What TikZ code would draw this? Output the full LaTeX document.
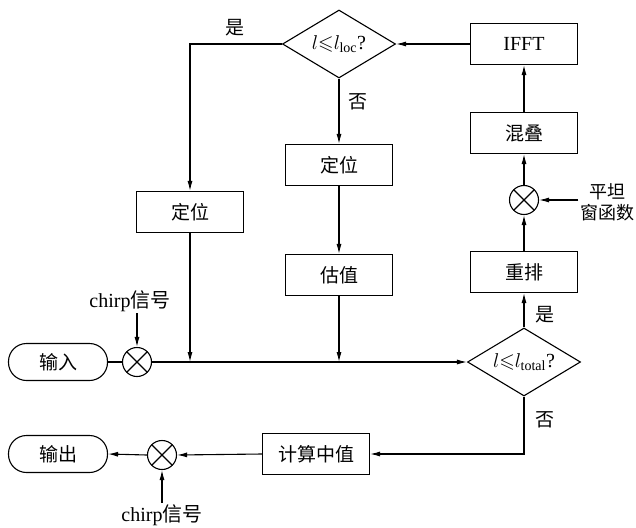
\RequirePackage{fix-cm}
\documentclass[tikz,border=0pt]{standalone}
\usepackage{amssymb}
\usepackage{fontspec}
\setmainfont{Liberation Serif}
\newfontfamily\cjk{Noto Sans CJK SC}
\usetikzlibrary{shapes.geometric,arrows.meta}
\begin{document}
\begin{tikzpicture}[x=1pt,y=-1pt,
  line width=1.1pt,
  font=\fontsize{20}{24}\selectfont,
  box/.style={draw, minimum width=107pt, minimum height=41pt, inner sep=0pt, font=\fontsize{19}{23}\selectfont\cjk},
  term/.style={draw, rounded corners=18pt, minimum width=99pt, minimum height=37pt, inner sep=0pt, font=\fontsize{19}{23}\selectfont\cjk},
  dec/.style={draw, diamond, aspect=1.66, minimum width=113pt, minimum height=68pt, inner sep=0pt},
  mult/.style={draw, circle, minimum size=29pt, inner sep=0pt,
    path picture={\draw (path picture bounding box.north west) -- (path picture bounding box.south east)
                        (path picture bounding box.north east) -- (path picture bounding box.south west);}},
  arr/.style={-{Latex[length=10pt,width=5pt]}},
  lab/.style={inner sep=1pt, font=\fontsize{19}{23}\selectfont\cjk}
]
\useasboundingbox (0,0) rectangle (636,527);

% nodes
\node[dec]  (dloc) at (339,44) {$l{\leqslant}l_{\mathrm{loc}}$?};
\node[box, font=\fontsize{20}{24}\selectfont]  (ifft) at (524,44) {IFFT};
\node[box]  (hd)   at (524,133) {混叠};
\node[mult] (m1)   at (524,200) {};
\node[lab, align=center, font=\fontsize{18}{21}\selectfont\cjk] (win) at (607,202) {平坦\\窗函数};
\node[box]  (cz)   at (524,272) {重排};
\node[dec]  (dtot) at (524,362) {$l{\leqslant}l_{\mathrm{total}}$?};
\node[box]  (calc) at (316,454) {计算中值};
\node[mult] (m3)   at (162,455) {};
\node[term] (out)  at (58,454) {输出};
\node[term] (in)   at (58,362) {输入};
\node[mult] (m2)   at (137,362) {};
\node[box]  (locL) at (190,212) {定位};
\node[box]  (locM) at (339,165) {定位};
\node[box]  (est)  at (339,275) {估值};

\node[inner sep=1pt] (chirpA) at (130,301) {chirp{\cjk 信号}};
\node[inner sep=1pt] (chirpB) at (162,515) {chirp{\cjk 信号}};

\node[lab] (yes1) at (235,28)  {是};
\node[lab] (no1)  at (358,102) {否};
\node[lab] (yes2) at (545,315) {是};
\node[lab] (no2)  at (545,420) {否};

\coordinate (c1) at (190,44);
\coordinate (j1) at (190,362);
\coordinate (j2) at (339,362);

% connectors
\draw[arr] (ifft.west) -- (dloc.east);
\draw[arr] (dloc.west) -- (c1) -- (locL.north);
\draw[arr] (dloc.south) -- (locM.north);
\draw[arr] (locM.south) -- (est.north);
\draw[arr] (locL.south) -- (j1);
\draw[arr] (est.south) -- (j2);
\draw (in.east) -- (m2.west);
\draw[arr] (m2.east) -- (dtot.west);
\draw[arr] (chirpA.south -| m2) -- (m2.north);
\draw[arr] (dtot.north) -- (cz.south);
\draw[arr] (cz.north) -- (m1.south);
\draw[arr] (m1.north) -- (hd.south);
\draw[arr] (hd.north) -- (ifft.south);
\draw[arr] (m1 -| win.west) -- (m1.east);
\draw[arr] (dtot.south) |- (calc.east);
\draw[arr] (calc.west) -- (m3.east);
\draw[arr] (m3.west) -- (out.east);
\draw[arr] (chirpB.north -| m3) -- (m3.south);
\end{tikzpicture}
\end{document}
